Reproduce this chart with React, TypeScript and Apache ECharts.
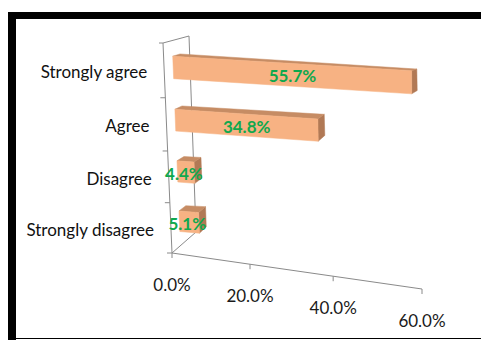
import React, { useEffect, useRef } from "react";
import * as echarts from "echarts";

const categories = ["Strongly agree", "Agree", "Disagree", "Strongly disagree"];
const values = [55.7, 34.8, 4.4, 5.1];
const valueLabels = ["55.7%", "34.8%", "4.4%", "5.1%"];
const xTicks = [0, 20, 40, 60];
const xTickLabels = ["0.0%", "20.0%", "40.0%", "60.0%"];

const FONT = 'Lato, "Open Sans", sans-serif';
const FRONT = "#f7b283";
const TOP = "#c68c64";
const SIDE = "#b17955";
const LINE = "#8a8a8a";

type Pt = [number, number];
const FBL: Pt = [172, 253];
const FTL: Pt = [163, 43];
const BBL: Pt = [196, 232];
const BTL: Pt = [189, 36];
const FBR: Pt = [422, 289];
const FTR: Pt = [426, 56];
const BBR: Pt = [450.6, 229];
const BTR: Pt = [443, 55];

const lerp = (a: Pt, b: Pt, k: number): Pt => [a[0] + (b[0] - a[0]) * k, a[1] + (b[1] - a[1]) * k];
const S = (f: number) => (f * (1 - 0.093)) / (1 - 0.093 * f);
const T = (g: number) => (g * (1 - 0.055)) / (1 - 0.055 * g);
function P(s: number, t: number, w: number): Pt {
  const L = lerp(lerp(FBL, FTL, t), lerp(BBL, BTL, t), w);
  const R = lerp(lerp(FBR, FTR, t), lerp(BBR, BTR, t), w);
  return lerp(L, R, s);
}
const WF = 0.35;
const WB = 0.63;

export default function App() {
  const ref = useRef<HTMLDivElement>(null);
  useEffect(() => {
    if (!ref.current) return;
    const chart = echarts.init(ref.current, null, { renderer: "svg" });
    const barItem = (params: any, api: any) => {
      const val = api.value(0);
      const idx = api.value(1);
      const W = api.getWidth();
      const H = api.getHeight();
      const p0 = api.coord([0, idx]);
      const p1 = api.coord([val, idx]);
      const band = api.size([0, 1])[1];
      const gc = 1 - p1[1] / H;
      const hh = (0.21 * band) / H;
      const s0 = S(p0[0] / W);
      const s1 = S(p1[0] / W);
      const t0 = T(gc - hh);
      const t1 = T(gc + hh);
      const f = [P(s0, t0, WF), P(s1, t0, WF), P(s1, t1, WF), P(s0, t1, WF)];
      const top = [P(s0, t1, WF), P(s1, t1, WF), P(s1, t1, WB), P(s0, t1, WB)];
      const side = [P(s1, t0, WF), P(s1, t1, WF), P(s1, t1, WB), P(s1, t0, WB)];
      const cx = (f[0][0] + f[1][0] + f[2][0] + f[3][0]) / 4;
      const cy = (f[0][1] + f[1][1] + f[2][1] + f[3][1]) / 4;
      return {
        type: "group",
        children: [
          { type: "polygon", shape: { points: side }, style: { fill: SIDE, stroke: SIDE, lineWidth: 0.5 } },
          { type: "polygon", shape: { points: top }, style: { fill: TOP, stroke: TOP, lineWidth: 0.5 } },
          { type: "polygon", shape: { points: f }, style: { fill: FRONT, stroke: FRONT, lineWidth: 0.5 } },
          {
            type: "text",
            x: cx - (val < 10 ? 2 : 0),
            y: cy + 1,
            style: {
              text: valueLabels[params.dataIndex],
              fill: "#10a84e",
              font: `bold 17px ${FONT}`,
              align: "center",
              verticalAlign: "middle",
            },
          },
        ],
      };
    };
    const tickItem = (params: any, api: any) => {
      const W = api.getWidth();
      const p = api.coord([api.value(0), 0]);
      const a = P(S(p[0] / W), 0, 0);
      const children: any[] = [
        { type: "line", shape: { x1: a[0], y1: a[1], x2: a[0], y2: a[1] + 5 }, style: { stroke: LINE, lineWidth: 1 } },
        {
          type: "text",
          x: a[0],
          y: a[1] + 31,
          style: { text: xTickLabels[params.dataIndex], fill: "#1a1a1a", font: `17px ${FONT}`, align: "center", verticalAlign: "middle" },
        },
      ];
      if (params.dataIndex === 0) {
        const b = P(1, 0, 0);
        children.push({ type: "line", shape: { x1: a[0], y1: a[1], x2: b[0], y2: b[1] }, style: { stroke: LINE, lineWidth: 1 } });
        const lines: [Pt, Pt][] = [
          [P(0, 0, 0), P(0, 1, 0)],
          [P(0, 0, 1), P(0, 1, 1)],
          [P(0, 1, 0), P(0, 1, 1)],
          [P(0, 0, 0), P(0, 0, 1)],
        ];
        lines.forEach(([u, v]) =>
          children.push({ type: "line", shape: { x1: u[0], y1: u[1], x2: v[0], y2: v[1] }, style: { stroke: LINE, lineWidth: 1 } })
        );
      }
      return { type: "group", children };
    };
    const catItem = (params: any, api: any) => {
      const H = api.getHeight();
      const idx = api.value(1);
      const p = api.coord([0, idx]);
      const band = api.size([0, 1])[1];
      const gc = 1 - p[1] / H;
      const hb = (0.5 * band) / H;
      const c = P(0, T(gc), 0);
      const lo = P(0, T(gc - hb), 0);
      const children: any[] = [
        {
          type: "text",
          x: c[0] - 17,
          y: c[1] + 1,
          style: { text: categories[params.dataIndex], fill: "#111111", font: `17px ${FONT}`, align: "right", verticalAlign: "middle" },
        },
        { type: "line", shape: { x1: lo[0] - 5, y1: lo[1], x2: lo[0], y2: lo[1] }, style: { stroke: LINE, lineWidth: 1 } },
      ];
      if (params.dataIndex === 0) {
        const hi = P(0, T(gc + hb), 0);
        children.push({ type: "line", shape: { x1: hi[0] - 4, y1: hi[1], x2: hi[0], y2: hi[1] }, style: { stroke: LINE, lineWidth: 1 } });
      }
      return { type: "group", children };
    };
    chart.setOption({
      animation: false,
      backgroundColor: "#ffffff",
      grid: { left: 0, right: 0, top: 0, bottom: 0 },
      xAxis: { type: "value", min: 0, max: 60, show: false },
      yAxis: { type: "category", data: categories, inverse: true, show: false },
      graphic: [
        { type: "rect", shape: { x: 9, y: 12, width: 472, height: 7 }, style: { fill: "#000" }, z: 100 },
        { type: "rect", shape: { x: 8, y: 12, width: 8, height: 328 }, style: { fill: "#000" }, z: 100 },
        { type: "rect", shape: { x: 8, y: 338, width: 473, height: 1 }, style: { fill: "#000" }, z: 100 },
      ],
      series: [
        {
          type: "custom",
          renderItem: tickItem,
          data: xTicks.map((v) => [v, 0]),
          encode: { x: 0, y: 1 },
          z: 1,
          silent: true,
        },
        {
          type: "custom",
          renderItem: catItem,
          data: categories.map((_, i) => [0, i]),
          encode: { x: 0, y: 1 },
          z: 1,
          silent: true,
        },
        {
          type: "custom",
          renderItem: barItem,
          data: values.map((v, i) => [v, i]),
          encode: { x: 0, y: 1 },
          z: 2,
        },
      ],
    });
    return () => chart.dispose();
  }, []);
  return <div ref={ref} style={{ position: "fixed", left: 0, top: 0, width: 481, height: 340 }} />;
}
